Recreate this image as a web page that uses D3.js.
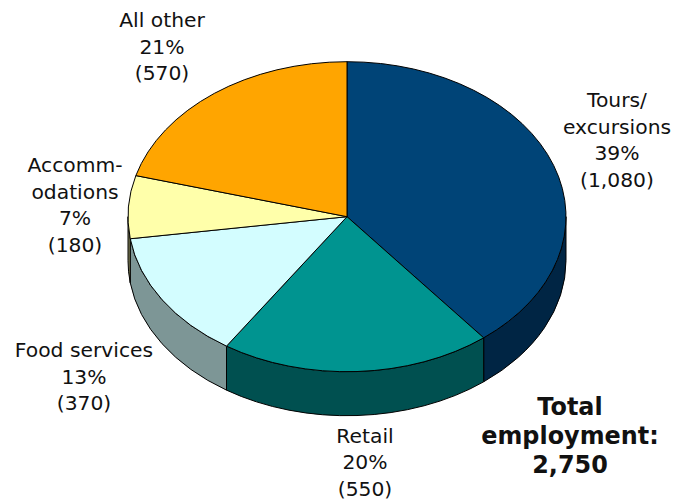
<!DOCTYPE html>
<html>
<head>
<meta charset="utf-8">
<script src="https://cdn.jsdelivr.net/npm/d3@7"></script>
<style>
  html, body { margin: 0; padding: 0; background: #fff; }
  text { font-family: "DejaVu Sans", sans-serif; fill: #111; }
</style>
</head>
<body>
<svg id="chart"></svg>
<script>
const categories = ["Tours/\nexcursions", "Retail", "Food services", "Accomm-\nodations", "All other"];
const employment = [1080, 550, 370, 180, 570];
const shares = ["39%", "20%", "13%", "7%", "21%"];
const counts = ["(1,080)", "(550)", "(370)", "(180)", "(570)"];
const totalLines = ["Total", "employment:", "2,750"];

const width = 686;
const height = 501;
const cx = 347;
const cy = 216.7;
const rx = 219;
const ry = 155;
const depth = 44;

const topColors = ["#004477", "#009490", "#d3fdff", "#ffffaa", "#ffa500"];
const sideColors = ["#002544", "#005050", "#7d9696", "#7f7f55", "#7f5200"];
// anchor (centre x, first baseline y) of each slice label
const labelPos = [[617, 107], [365, 442.5], [84, 357], [75, 172], [162, 27]];

const svg = d3.select("#chart").attr("width", width).attr("height", height)
  .style("display", "block");

const yScale = ry / rx;
const pie = d3.pie().sort(null).value(d => d)(employment);
const arc = d3.arc().innerRadius(0).outerRadius(rx);

// draw in circle space and squash to an ellipse
const disc = svg.append("g")
  .attr("transform", `translate(${cx},${cy}) scale(1,${yScale})`);

const dz = depth / yScale;

// only the front half of the rim shows (pi/2 to 3pi/2 in pie angles)
function wallPath(d) {
  const a0 = Math.max(d.startAngle, Math.PI / 2);
  const a1 = Math.min(d.endAngle, Math.PI * 1.5);
  if (a1 <= a0) return null;
  const p = d3.path();
  p.arc(0, 0, rx, a0 - Math.PI / 2, a1 - Math.PI / 2);
  p.arc(0, dz, rx, a1 - Math.PI / 2, a0 - Math.PI / 2, true);
  p.closePath();
  return p.toString();
}

disc.selectAll(".wall")
  .data(pie)
  .enter()
  .append("path")
  .attr("class", "wall")
  .attr("d", wallPath)
  .attr("fill", (d, i) => sideColors[i])
  .attr("stroke", "#000")
  .attr("stroke-width", 1)
  .attr("vector-effect", "non-scaling-stroke");

disc.selectAll(".slice")
  .data(pie)
  .enter()
  .append("path")
  .attr("class", "slice")
  .attr("d", arc)
  .attr("fill", (d, i) => topColors[i])
  .attr("stroke", "#000")
  .attr("stroke-width", 1)
  .attr("vector-effect", "non-scaling-stroke");

// slice labels
const lineHeight = 26.6;
categories.forEach((name, i) => {
  const lines = name.split("\n").concat([shares[i], counts[i]]);
  const label = svg.append("text")
    .attr("text-anchor", "middle")
    .attr("font-size", 20.3);
  lines.forEach((line, j) => {
    label.append("tspan")
      .attr("x", labelPos[i][0])
      .attr("y", labelPos[i][1] + j * lineHeight)
      .text(line);
  });
});

// total note
const total = svg.append("text")
  .attr("text-anchor", "middle")
  .attr("font-size", 23.9)
  .attr("font-weight", "bold");
totalLines.forEach((line, j) => {
  total.append("tspan")
    .attr("x", 570)
    .attr("y", 415 + j * 29)
    .text(line);
});
</script>
</body>
</html>
